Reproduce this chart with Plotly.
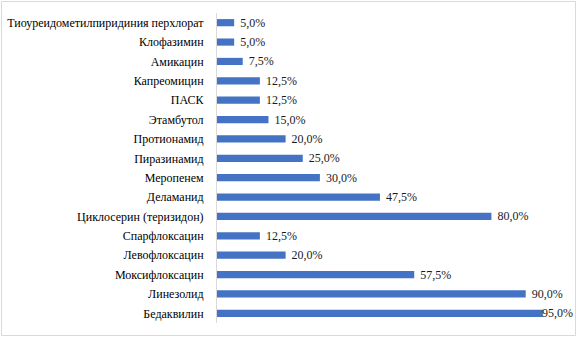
import plotly.graph_objects as go

# Препараты (сверху вниз) и доля назначений, %
drugs = [
    "Тиоуреидометилпиридиния перхлорат",
    "Клофазимин",
    "Амикацин",
    "Капреомицин",
    "ПАСК",
    "Этамбутол",
    "Протионамид",
    "Пиразинамид",
    "Меропенем",
    "Деламанид",
    "Циклосерин (теризидон)",
    "Спарфлоксацин",
    "Левофлоксацин",
    "Моксифлоксацин",
    "Линезолид",
    "Бедаквилин",
]
shares = [5.0, 5.0, 7.5, 12.5, 12.5, 15.0, 20.0, 25.0, 30.0, 47.5, 80.0, 12.5, 20.0, 57.5, 90.0, 95.0]

labels = [f"{v:.1f}%".replace(".", ",") for v in shares]

SERIF = "Liberation Serif"
FS = 12
TXT = "#1a1a1a"

W, H = 577, 337
L, R, T, B = 217, 17, 13, 14
pw, ph = W - L - R, H - T - B

# the longest bar's label is pulled back onto the bar end so it fits inside the frame;
# the others get a small lead-in gap after the bar end
bar_text = ["\u00a0" + s for s in labels[:-1]] + [""]

fig = go.Figure(
    go.Bar(
        x=shares,
        y=drugs,
        orientation="h",
        marker=dict(color="#4472C4", line=dict(width=0)),
        width=0.37,
        text=bar_text,
        textposition="outside",
        constraintext="none",
        textfont=dict(family=SERIF, size=FS, color=TXT),
        cliponaxis=False,
    )
)

fig.add_annotation(
    x=shares[-1],
    y=drugs[-1],
    text=labels[-1],
    showarrow=False,
    xanchor="left",
    xshift=-3,
    font=dict(family=SERIF, size=FS, color=TXT),
)

fig.update_layout(
    width=W,
    height=H,
    margin=dict(l=L, r=R, t=T, b=B, autoexpand=False),
    paper_bgcolor="white",
    plot_bgcolor="white",
    showlegend=False,
    font=dict(family=SERIF, size=FS, color="black"),
    xaxis=dict(range=[0, 100], visible=False, automargin=False),
    yaxis=dict(
        autorange="reversed",
        automargin=False,
        showgrid=False,
        showline=True,
        linecolor="#d9d9d9",
        linewidth=1,
        ticks="",
        ticklabelstandoff=10,
        tickfont=dict(family=SERIF, size=FS, color="black"),
    ),
    shapes=[
        dict(
            type="rect",
            xref="paper",
            yref="paper",
            x0=(1.5 - L) / pw,
            x1=(W - 1.5 - L) / pw,
            y0=(1.5 - B) / ph,
            y1=(H - 1.5 - B) / ph,
            line=dict(color="#d9d9d9", width=1),
            fillcolor="rgba(0,0,0,0)",
            layer="above",
        )
    ],
)

fig.write_html("out.html")
